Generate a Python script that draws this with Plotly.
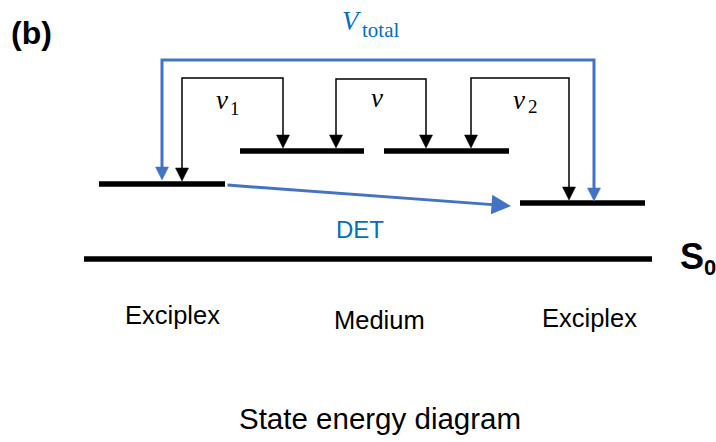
import plotly.graph_objects as go

# Energy levels (diagram coordinates)
level_names = ["Exciplex (left)", "Medium 1", "Medium 2", "Exciplex (right)", "S0"]
level_x0 = [99, 240, 384, 520, 84]
level_x1 = [225, 364, 509, 645, 652]
level_y = [184, 151, 151, 203, 259]

# Black transfer brackets: v1, v, v2
br_xl = [182, 336, 471]
br_xr = [283, 426, 569]
br_top = [78, 79, 78]
br_tip_l = [181, 148, 148]
br_tip_r = [148, 148, 200]

# Bracket labels: main letter and subscript
lab_main_x = [222, 377, 519]
lab_main_y = [100, 98, 100]
lab_sub = ["1", "", "2"]
lab_sub_x = [235, 0, 533]
lab_sub_y = [108, 0, 106]

# Blue total bracket
tot_xl, tot_xr, tot_top = 162, 594, 60
tot_tip_l, tot_tip_r = 180, 201

# DET arrow
det_from = (226, 185)
det_to = (511, 206)

# Category labels
cat_labels = ["Exciplex", "Medium", "Exciplex"]
cat_x = [172, 379, 589]
cat_y = [315, 320, 318]

blue_line = "#4472C4"
blue_text = "#0070C0"
serif = "Liberation Serif, Times New Roman, serif"
sans = "Liberation Sans, Arial, sans-serif"


def triangles(xs, ys, w=13, h=13):
    px, py = [], []
    for x, y in zip(xs, ys):
        px += [x - w / 2, x + w / 2, x, x - w / 2, None]
        py += [y - h, y - h, y, y - h, None]
    return px, py


fig = go.Figure()

for x0, x1, y in zip(level_x0, level_x1, level_y):
    fig.add_trace(go.Scatter(x=[x0, x1], y=[y, y], mode="lines",
                             line=dict(color="black", width=5.5), hoverinfo="skip"))

head = 12
for xl, xr, top, tl, tr in zip(br_xl, br_xr, br_top, br_tip_l, br_tip_r):
    fig.add_trace(go.Scatter(x=[xl, xl, xr, xr], y=[tl - head, top, top, tr - head],
                             mode="lines", line=dict(color="black", width=1.5),
                             hoverinfo="skip"))
tx, ty = triangles(br_xl + br_xr, br_tip_l + br_tip_r)
fig.add_trace(go.Scatter(x=tx, y=ty, mode="lines", fill="toself", fillcolor="black",
                         line=dict(color="black", width=0.5), hoverinfo="skip"))

fig.add_trace(go.Scatter(x=[tot_xl, tot_xl, tot_xr, tot_xr],
                         y=[tot_tip_l - head, tot_top, tot_top, tot_tip_r - head],
                         mode="lines", line=dict(color=blue_line, width=3), hoverinfo="skip"))
tx, ty = triangles([tot_xl, tot_xr], [tot_tip_l, tot_tip_r], w=13, h=13)
fig.add_trace(go.Scatter(x=tx, y=ty, mode="lines", fill="toself", fillcolor=blue_line,
                         line=dict(color=blue_line, width=0.5), hoverinfo="skip"))

fig.add_annotation(x=det_to[0], y=det_to[1], ax=det_from[0], ay=det_from[1],
                   xref="x", yref="y", axref="x", ayref="y", text="",
                   showarrow=True, arrowhead=2, arrowsize=1.3, arrowwidth=3,
                   arrowcolor=blue_line, standoff=0)

for mx, my, sub, sx, sy in zip(lab_main_x, lab_main_y, lab_sub, lab_sub_x, lab_sub_y):
    fig.add_annotation(x=mx, y=my, text="<i>v</i>", showarrow=False,
                       font=dict(family=serif, size=27, color="black"))
    if sub:
        fig.add_annotation(x=sx, y=sy, text=sub, showarrow=False,
                           font=dict(family=serif, size=19, color="black"))

fig.add_annotation(x=352, y=21, text="<i>V</i>", showarrow=False,
                   font=dict(family=serif, size=27, color=blue_text))
fig.add_annotation(x=380, y=30, text="total", showarrow=False,
                   font=dict(family=serif, size=21, color=blue_text))
fig.add_annotation(x=360, y=229, text="DET", showarrow=False,
                   font=dict(family=sans, size=24, color=blue_text))
fig.add_annotation(x=692, y=256, text="<b>S</b>", showarrow=False,
                   font=dict(family=sans, size=36, color="black"))
fig.add_annotation(x=710, y=267, text="<b>0</b>", showarrow=False,
                   font=dict(family=sans, size=22, color="black"))
fig.add_annotation(x=31, y=33, text="<b>(b)</b>", showarrow=False,
                   font=dict(family=sans, size=32, color="black"))

for cx, cy, ct in zip(cat_x, cat_y, cat_labels):
    fig.add_annotation(x=cx, y=cy, text=ct, showarrow=False,
                       font=dict(family=sans, size=25.5, color="black"))

fig.add_annotation(x=380, y=418, text="State energy diagram", showarrow=False,
                   font=dict(family=sans, size=29.5, color="black"))

fig.update_layout(width=716, height=442, margin=dict(l=0, r=0, t=0, b=0),
                  paper_bgcolor="white", plot_bgcolor="white", showlegend=False,
                  xaxis=dict(range=[0, 716], visible=False, fixedrange=True),
                  yaxis=dict(range=[442, 0], visible=False, fixedrange=True))

fig.write_html("out.html")
